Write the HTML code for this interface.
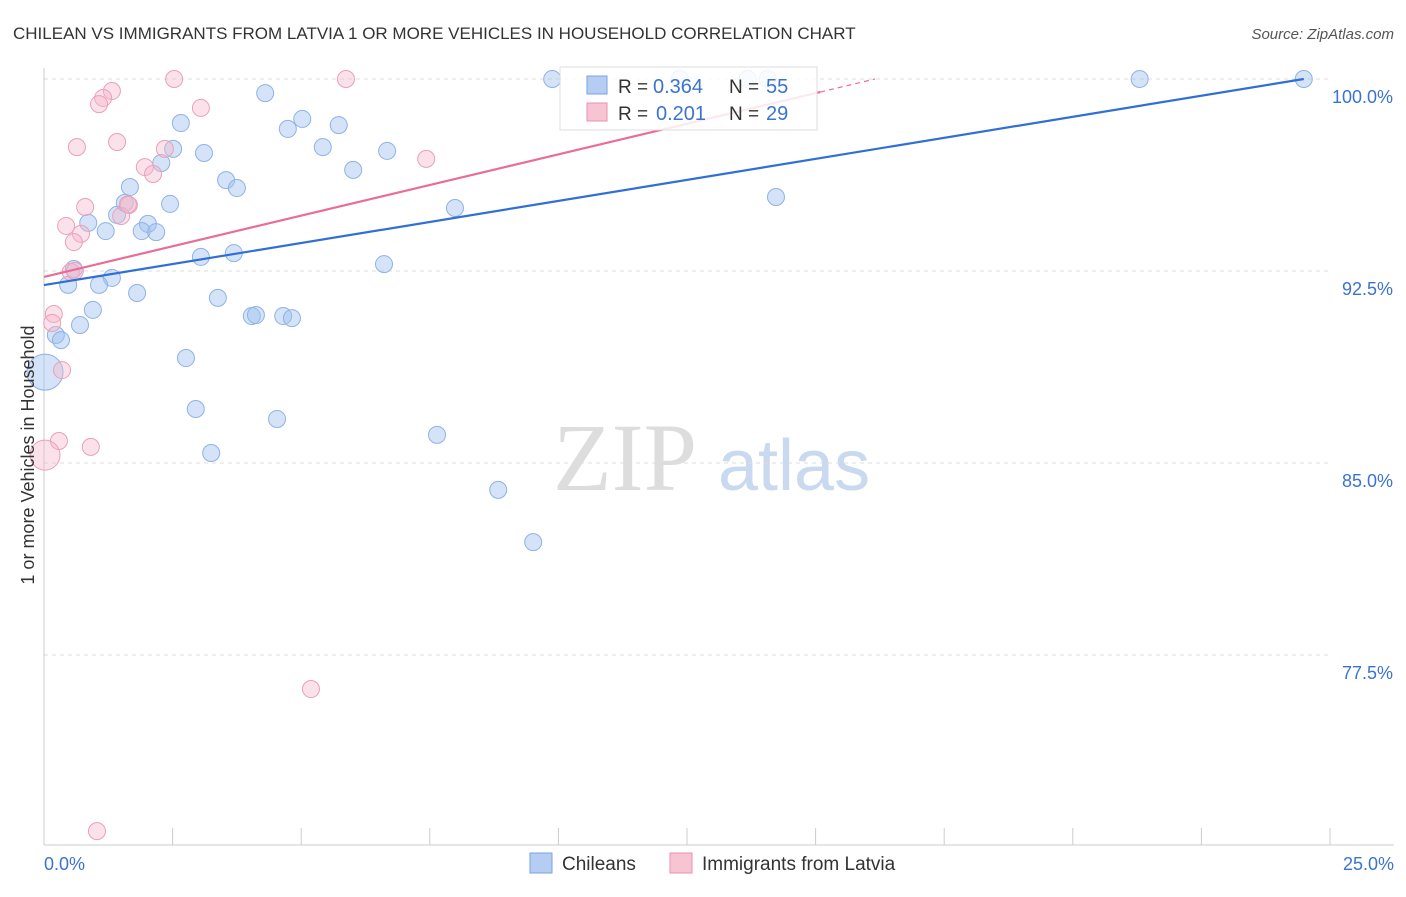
<!DOCTYPE html>
<html><head><meta charset="utf-8"><style>
body{margin:0;background:#fff;font-family:"Liberation Sans",sans-serif}
</style></head><body>
<svg width="1406" height="892" xmlns="http://www.w3.org/2000/svg" font-family="Liberation Sans, sans-serif">
<text x="13" y="39" font-size="17" fill="#333">CHILEAN VS IMMIGRANTS FROM LATVIA 1 OR MORE VEHICLES IN HOUSEHOLD CORRELATION CHART</text>
<text x="1394" y="39" font-size="15" fill="#555" text-anchor="end" font-style="italic">Source: ZipAtlas.com</text>
<text x="553" y="490" font-size="96" fill="#ddd" font-family="Liberation Serif, serif">ZIP</text>
<text x="718" y="490" font-size="72" fill="#c9d9ef">atlas</text>
<g id="grid"></g>
<g id="pts"></g><g id="lines"></g>
<g>
<rect x="560" y="67" width="257" height="63" fill="#fff" fill-opacity="0.85" stroke="#ddd"/>
<rect x="587" y="76" width="20" height="18" fill="#b5cdf2" stroke="#7aa2e0"/>
<rect x="587" y="103" width="20" height="18" fill="#f8c3d3" stroke="#e893ad"/>
<text x="618" y="93" font-size="19" fill="#333">R =</text>
<text x="653" y="93" font-size="20" fill="#3b73d1">0.364</text>
<text x="729" y="93" font-size="19" fill="#333">N =</text>
<text x="766" y="93" font-size="20" fill="#3b73d1">55</text>
<text x="618" y="120" font-size="19" fill="#333">R =</text>
<text x="656" y="120" font-size="20" fill="#3b73d1">0.201</text>
<text x="729" y="120" font-size="19" fill="#333">N =</text>
<text x="766" y="120" font-size="20" fill="#3b73d1">29</text>
</g>
<text transform="translate(34,455) rotate(-90)" font-size="18" fill="#333" text-anchor="middle">1 or more Vehicles in Household</text>
<text x="44" y="870" font-size="18" fill="#3b73d1">0.0%</text>
<text x="1394" y="870" font-size="18" fill="#3b73d1" text-anchor="end">25.0%</text>
<g>
<rect x="530" y="853" width="22" height="20" fill="#b5cdf2" stroke="#7aa2e0"/>
<text x="562" y="870" font-size="19" fill="#333">Chileans</text>
<rect x="670" y="853" width="22" height="20" fill="#f8c3d3" stroke="#e893ad"/>
<text x="702" y="870" font-size="19" fill="#333">Immigrants from Latvia</text>
</g>
</svg>
<script>
const yTicks=[100,92.5,85,77.5];
const xTicks=[0,2.5,5,7.5,10,12.5,15,17.5,20,22.5,25];
const chileX=[9.88,12.36,13.68,14.07,21.3,24.49,4.3,2.66,5.02,4.74,5.73,5.42,2.51,3.11,6.67,2.28,6.01,3.54,3.75,1.67,14.23,2.45,1.57,1.42,7.99,0.86,2.02,1.2,1.9,2.18,3.69,3.05,6.61,0.58,1.32,0.47,1.07,1.81,3.38,0.95,4.04,4.12,4.65,4.82,0.7,0.23,0.33,0.02,2.76,2.95,4.53,7.64,3.25,8.83,9.51];
const chileY=[100,100,100,100,100,100,99.45,98.28,98.44,98.05,98.2,97.34,97.27,97.11,97.19,96.72,96.45,96.05,95.74,95.78,95.39,95.12,95.16,94.69,94.96,94.38,94.34,94.06,94.06,94.02,93.2,93.05,92.77,92.58,92.23,91.96,91.96,91.64,91.45,90.98,90.74,90.78,90.74,90.66,90.39,90,89.8,88.55,89.1,87.11,86.72,86.1,85.39,83.95,81.91];
const latX=[2.53,5.87,1.32,1.15,1.07,3.05,1.42,0.64,2.35,1.96,2.12,7.43,1.65,1.5,0.8,0.43,0.72,0.58,0.52,0.19,0.16,0.35,0.29,0.91,0.02,5.19,1.03,1.63,0.6];
const latY=[100,100,99.53,99.26,99.02,98.87,97.54,97.34,97.27,96.56,96.29,96.88,95.08,94.65,95.0,94.26,93.95,93.63,92.46,90.82,90.47,88.63,85.86,85.63,85.31,76.17,70.62,95.1,92.5];
const blueTrend=[[0,91.95],[24.49,100]];
const pinkTrend=[[0,92.27],[15.09,99.49]];
const X=v=>44+v*51.44, Y=v=>79+(100-v)*25.6;
const ns="http://www.w3.org/2000/svg";
function mk(t,a,p){const e=document.createElementNS(ns,t);for(const k in a)e.setAttribute(k,a[k]);p.appendChild(e);return e;}
const grid=document.getElementById('grid');
yTicks.forEach(t=>{
 const l=mk('line',{x1:44,x2:1330,y1:Y(t),y2:Y(t),stroke:'#ddd','stroke-dasharray':'4,4'},grid);
 
 
 const tx=mk('text',{x:1393,y:Y(t)+24,'font-size':18,fill:'#3b73d1','text-anchor':'end'},grid);
 tx.textContent=t.toFixed(1)+'%';
 
 
});
mk('line',{x1:44,x2:44,y1:68,y2:845,stroke:'#ccc'},grid);
mk('line',{x1:44,x2:1394,y1:845,y2:845,stroke:'#ccc'},grid);
xTicks.forEach(t=>{
 const l=mk('line',{x1:X(t),x2:X(t),y1:828,y2:845,stroke:'#ccc'},grid);
 
 
});
const pts=document.getElementById('pts');
chileX.forEach((x,i)=>{
 const r=(i==47)?18:8.5;
 const c=mk('circle',{cx:X(x),cy:Y(chileY[i]),r:r,fill:'rgba(160,192,238,0.45)',stroke:'#8fb2e6','stroke-width':1},pts);
 
 
});
latX.forEach((x,i)=>{
 const r=(i==24)?15:8.5;
 const c=mk('circle',{cx:X(x),cy:Y(latY[i]),r:r,fill:'rgba(246,182,202,0.4)',stroke:'#eaa0b8','stroke-width':1},pts);
 
 
});
const lines=document.getElementById('lines');
const bl=mk('line',{x1:X(blueTrend[0][0]),y1:Y(blueTrend[0][1]),x2:X(blueTrend[1][0]),y2:Y(blueTrend[1][1]),stroke:'#2f6fd6','stroke-width':2.2},lines);


const pl=mk('line',{x1:X(pinkTrend[0][0]),y1:Y(pinkTrend[0][1]),x2:X(pinkTrend[1][0]),y2:Y(pinkTrend[1][1]),stroke:'#e86e98','stroke-width':2.2},lines);


const slope=(pinkTrend[1][1]-pinkTrend[0][1])/(pinkTrend[1][0]-pinkTrend[0][0]);
const xe=pinkTrend[0][0]+(100-pinkTrend[0][1])/slope;
const pd=mk('line',{x1:X(pinkTrend[1][0]),y1:Y(pinkTrend[1][1]),x2:X(xe),y2:Y(100),stroke:'#e86e98','stroke-width':1.2,'stroke-dasharray':'5,4'},lines);


</script>
</body></html>
